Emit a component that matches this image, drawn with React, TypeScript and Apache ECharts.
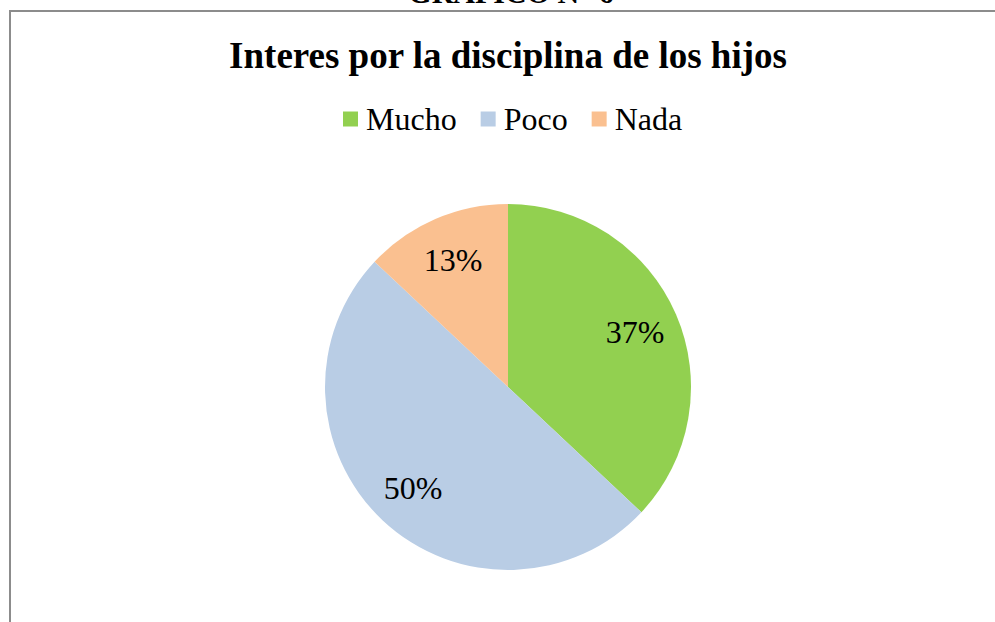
import React, { useEffect, useRef } from "react";
import * as echarts from "echarts";

const categories = ["Mucho", "Poco", "Nada"];
const values = [37, 50, 13];
const colors = ["#92d050", "#b9cde5", "#fac090"];
const chartTitle = "Interes por la disciplina de los hijos";
const headerText = "GRÁFICO N° 6";

export default function App() {
  const ref = useRef<HTMLDivElement>(null);
  useEffect(() => {
    if (!ref.current) return;
    const chart = echarts.init(ref.current, undefined, { renderer: "svg" });
    const data = categories.map((c, i) => ({ name: c, value: values[i], itemStyle: { color: colors[i] } }));
    const serif = "Liberation Serif";
    chart.setOption({
      animation: false,
      backgroundColor: "#ffffff",
      graphic: [
        {
          type: "rect",
          shape: { x: 10, y: 11, width: 1100, height: 800 },
          style: { fill: "none", stroke: "#8c8c8c", lineWidth: 2 },
          z: 0,
        },
        {
          type: "text",
          x: 511,
          y: 7,
          style: {
            text: headerText,
            fontFamily: serif,
            fontWeight: "bold",
            fontSize: 30,
            fill: "#000",
            align: "center",
            verticalAlign: "bottom",
          },
        },
        {
          type: "text",
          x: 508,
          y: 55,
          style: {
            text: chartTitle,
            fontFamily: serif,
            fontWeight: "bold",
            fontSize: 37,
            fill: "#000",
            align: "center",
            verticalAlign: "middle",
          },
        },
      ],
      legend: {
        data: categories,
        left: 343,
        top: 103,
        padding: 0,
        itemWidth: 15,
        itemHeight: 15,
        itemGap: 24,
        icon: "rect",
        selectedMode: false,
        textStyle: { fontFamily: serif, fontSize: 32, color: "#000", padding: [0, 0, 0, 3] },
      },
      series: [
        {
          type: "pie",
          center: [508, 387],
          radius: [0, 183],
          startAngle: 90,
          clockwise: true,
          silent: true,
          label: { show: false },
          labelLine: { show: false },
          data,
        },
        {
          type: "pie",
          center: [508, 387],
          radius: [88, 183],
          startAngle: 90,
          clockwise: true,
          silent: true,
          itemStyle: { color: "transparent" },
          label: {
            show: true,
            position: "inside",
            formatter: "{c}%",
            fontFamily: serif,
            fontSize: 32,
            color: "#000",
          },
          labelLine: { show: false },
          data: categories.map((c, i) => ({ name: c, value: values[i], itemStyle: { color: "transparent" } })),
        },
      ],
    });
    return () => chart.dispose();
  }, []);
  return <div ref={ref} style={{ position: "fixed", left: 0, top: 0, width: 995, height: 622 }} />;
}
